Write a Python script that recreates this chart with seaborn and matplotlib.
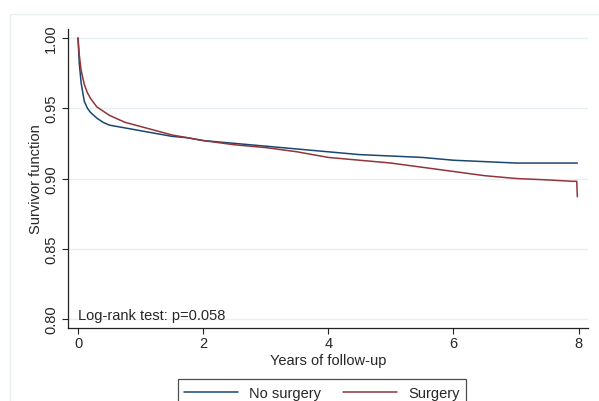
import pandas as pd
import matplotlib
matplotlib.use("Agg")
import matplotlib.pyplot as plt
import seaborn as sns
from matplotlib.patches import Rectangle

# Kaplan-Meier estimates
tempo = [0, 0.02, 0.05, 0.1, 0.15, 0.2, 0.3, 0.4, 0.5, 0.75, 1.0, 1.25, 1.5,
         1.75, 2.0, 2.5, 3.0, 3.5, 4.0, 4.5, 5.0, 5.5, 6.0, 6.5, 7.0, 7.5,
         7.9, 7.97, 7.98]
sem_cirurgia = [1.0, 0.982, 0.968, 0.955, 0.950, 0.947, 0.943, 0.940, 0.938,
                0.936, 0.934, 0.932, 0.930, 0.929, 0.927, 0.925, 0.923, 0.921,
                0.919, 0.917, 0.916, 0.915, 0.913, 0.912, 0.911, 0.911,
                0.911, 0.911, 0.911]
cirurgia = [1.0, 0.988, 0.977, 0.967, 0.961, 0.957, 0.951, 0.948, 0.945,
            0.940, 0.937, 0.934, 0.931, 0.929, 0.927, 0.924, 0.922, 0.919,
            0.915, 0.913, 0.911, 0.908, 0.905, 0.902, 0.900, 0.899,
            0.898, 0.898, 0.887]
grupos = ["No surgery", "Surgery"]
cores = ["#1A476F", "#90353B"]

df = pd.concat([
    pd.DataFrame({"Tempo": tempo, "Sobrevida": sem_cirurgia, "Grupo": grupos[0]}),
    pd.DataFrame({"Tempo": tempo, "Sobrevida": cirurgia, "Grupo": grupos[1]}),
])

sns.set_style("white")
plt.rcParams["font.family"] = ["Liberation Sans", "DejaVu Sans"]

fig = plt.figure(figsize=(5.99, 4.02), dpi=100)
ax = fig.add_axes([68 / 599, 1 - 329 / 402, 520 / 599, 299 / 402])

# moldura externa clara (estilo Stata)
fig.patches.append(Rectangle((10 / 599, -0.1), 1.0, (402 - 15) / 402 + 0.1,
                             transform=fig.transFigure, fill=False,
                             edgecolor="#E8F0F2", linewidth=1))

sns.lineplot(data=df, x="Tempo", y="Sobrevida", hue="Grupo", palette=cores,
             estimator=None, sort=False, linewidth=1.1, ax=ax, legend=False)

ax.set_xlim(-0.16, 8.15)
ax.set_ylim(0.7936, 1.0064)
ax.set_xticks([0, 2, 4, 6, 8])
ax.set_yticks([0.80, 0.85, 0.90, 0.95, 1.00])
ax.set_yticklabels(["0.80", "0.85", "0.90", "0.95", "1.00"], rotation=90,
                   va="center")
ax.tick_params(axis="both", labelsize=10.5, length=4, width=0.8, direction="out",
               color="#222222", pad=2, left=True, bottom=True)
ax.tick_params(axis="y", pad=3)
ax.grid(axis="y", color="#E6EFF1", linewidth=1)
ax.set_axisbelow(True)
sns.despine(ax=ax)
for s in ["left", "bottom"]:
    ax.spines[s].set_color("#222222")
    ax.spines[s].set_linewidth(0.9)

ax.set_xlabel("Years of follow-up", fontsize=10.5, labelpad=2)
ax.set_ylabel("Survivor function", fontsize=10.5, labelpad=1)
ax.text(0.0, 0.803, "Log-rank test: p=0.058", fontsize=10.5, ha="left",
        va="center")

handles = [plt.Line2D([], [], color=c, linewidth=1.1) for c in cores]
leg = fig.legend(handles, grupos, loc="upper center", ncol=2,
                 bbox_to_anchor=(322 / 599, 1 - 376 / 402),
                 frameon=True, fancybox=False, edgecolor="#222222",
                 fontsize=10.5, handlelength=3.7, columnspacing=1.5,
                 borderpad=0.45, handletextpad=0.75, borderaxespad=0.3)
leg.get_frame().set_linewidth(0.9)

fig.savefig("out.png", dpi=100)
